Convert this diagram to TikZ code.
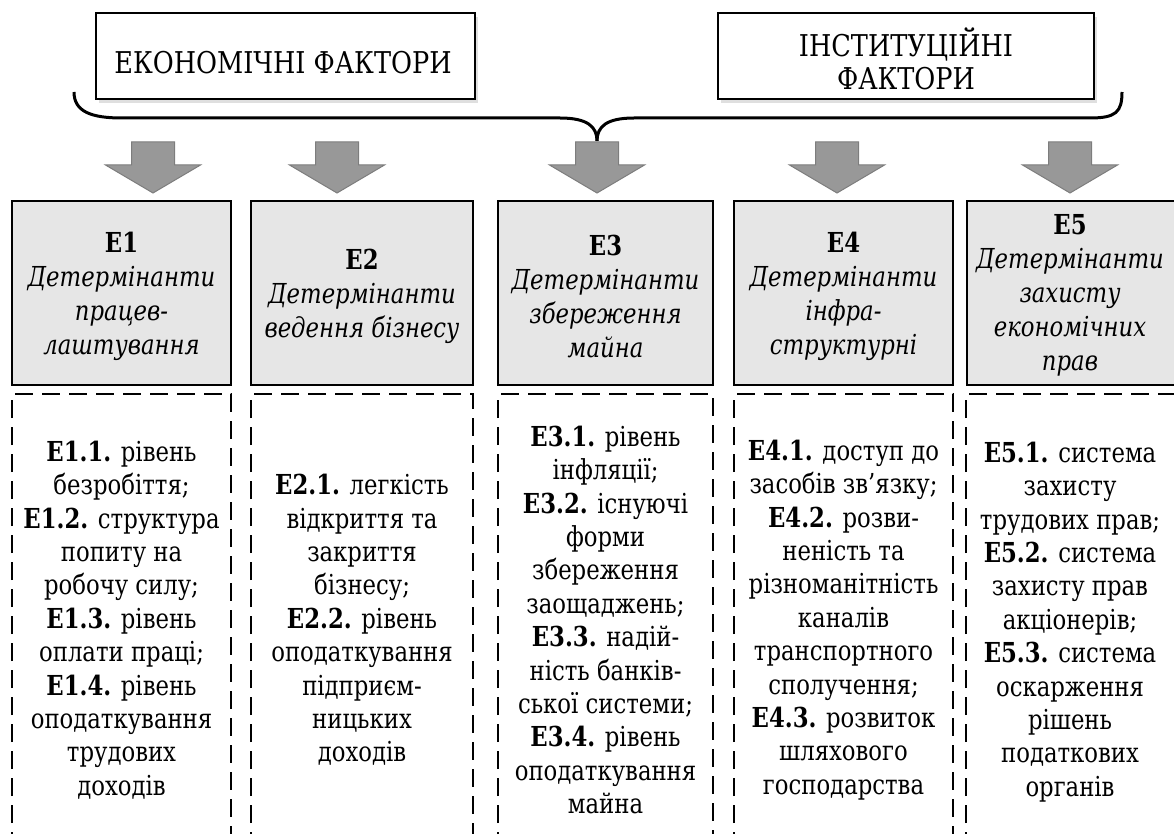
\documentclass[tikz,border=0pt]{standalone}
\usepackage{fontspec}
\setmainfont{DejaVu Serif Condensed}[FakeStretch=0.92]
\usetikzlibrary{shadows}
\definecolor{boxgray}{RGB}{230,230,230}
\definecolor{arrowfill}{RGB}{152,152,152}
\definecolor{arrowedge}{RGB}{125,125,125}
\newcommand{\widetxt}[1]{\scalebox{1.03}[1]{#1}}
\begin{document}
\begin{tikzpicture}[x=1pt,y=-1pt,
  topbox/.style={draw=black, line width=2pt, fill=white,
    drop shadow={opacity=0.25, shadow xshift=3pt, shadow yshift=-4pt}},
  toptext/.style={align=center, inner sep=0pt,
    font=\fontsize{30}{33}\selectfont},
  headbox/.style={draw=black, line width=2.5pt, fill=boxgray},
  headtext/.style={align=center, inner sep=0pt,
    font=\fontsize{27.5}{34}\selectfont},
  listbox/.style={draw=black, line width=2.5pt, dash pattern=on 18pt off 9pt},
  listtext/.style={align=center, inner sep=0pt,
    font=\fontsize{27.5}{33.4}\selectfont},
  blockarrow/.style={fill=arrowfill, draw=arrowedge, line width=1pt},
  brace/.style={draw=black, line width=3pt}]
\useasboundingbox (0,0) rectangle (1174,834);
\clip (0,0) rectangle (1174,834);

% top boxes
\node[topbox, minimum width=379pt, minimum height=86pt] (top1) at (285.5,56) {};
\node[toptext] (top1t) at (283,63) {\widetxt{ЕКОНОМІЧНІ ФАКТОРИ}};
\node[topbox, minimum width=376pt, minimum height=86pt] (top2) at (906,56) {};
\node[toptext] (top2t) at (906,58.5) {\widetxt{ІНСТИТУЦІЙНІ}\\\widetxt{ФАКТОРИ}};

% brace
\coordinate (bl) at (74,92);
\coordinate (br) at (1122,92);
\coordinate (bt) at (597,141);
\draw[brace] (bl) .. controls (74,112) and (92,118) .. (122,118) -- (560,118)
  .. controls (588,118) and (597,127) .. (bt);
\draw[brace] (bt) .. controls (597,127) and (606,118) .. (634,118) -- (1090,118)
  .. controls (1116,118) and (1122,112) .. (br);

% block arrows
\foreach \c in {153,337,597,837,1070}{
  \draw[blockarrow] (\c-21.5,142) -- (\c+21.5,142) -- (\c+21.5,165) -- (\c+47.5,165)
    -- (\c,193) -- (\c-47.5,165) -- (\c-21.5,165) -- cycle;
}

% heading boxes
\node[headbox, minimum width=219pt, minimum height=184pt] (h1) at (121.5,293) {};
\node[headbox, minimum width=222pt, minimum height=184pt] (h2) at (362,293) {};
\node[headbox, minimum width=215pt, minimum height=184pt] (h3) at (605.5,293) {};
\node[headbox, minimum width=219pt, minimum height=184pt] (h4) at (843.5,293) {};
\node[headbox, minimum width=215pt, minimum height=184pt] (h5) at (1074.5,293) {};

\node[headtext] (h1t) at (121.5,296) {\textbf{E1}\\\textit{Детермінанти}\\\textit{працев-}\\\textit{лаштування}};
\node[headtext] (h2t) at (362,296) {\textbf{E2}\\\textit{Детермінанти}\\\textit{ведення бізнесу}};
\node[headtext] (h3t) at (605.5,296) {\textbf{E3}\\\textit{Детермінанти}\\\textit{збереження}\\\textit{майна}};
\node[headtext] (h4t) at (843.5,296) {\textbf{E4}\\\textit{Детермінанти}\\\textit{інфра-}\\\textit{структурні}};
\node[headtext] (h5t) at (1070,295) {\textbf{E5}\\\textit{Детермінанти}\\\textit{захисту}\\\textit{економічних}\\\textit{прав}};

% list boxes (open at the bottom edge)
\draw[listbox] (12,850) -- (12,394) -- (231,394) -- (231,850);
\draw[listbox] (251,850) -- (251,394) -- (473,394) -- (473,850);
\draw[listbox] (498,850) -- (498,394) -- (713,394) -- (713,850);
\draw[listbox] (734,850) -- (734,394) -- (953,394) -- (953,850);
\draw[listbox] (966,850) -- (966,394) -- (1190,394);

\node[listtext] (l1) at (121.5,620) {\textbf{E1.1.} рівень\\безробіття;\\\textbf{E1.2.} структура\\попиту на\\робочу силу;\\\textbf{E1.3.} рівень\\оплати праці;\\\textbf{E1.4.} рівень\\оподаткування\\трудових\\доходів};
\node[listtext] (l2) at (362,620) {\textbf{E2.1.} легкість\\відкриття та\\закриття\\бізнесу;\\\textbf{E2.2.} рівень\\оподаткування\\підприєм-\\ницьких\\доходів};
\node[listtext] (l3) at (605.5,620) {\textbf{E3.1.} рівень\\інфляції;\\\textbf{E3.2.} існуючі\\форми\\збереження\\заощаджень;\\\textbf{E3.3.} надій-\\ність банків-\\ської системи;\\\textbf{E3.4.} рівень\\оподаткування\\майна};
\node[listtext] (l4) at (843.5,620) {\textbf{E4.1.} доступ до\\засобів зв’язку;\\\textbf{E4.2.} розви-\\неність та\\різноманітність\\каналів\\транспортного\\сполучення;\\\textbf{E4.3.} розвиток\\шляхового\\господарства};
\node[listtext] (l5) at (1070,622) {\textbf{E5.1.} система\\захисту\\трудових прав;\\\textbf{E5.2.} система\\захисту прав\\акціонерів;\\\textbf{E5.3.} система\\оскарження\\рішень\\податкових\\органів};
\end{tikzpicture}
\end{document}
